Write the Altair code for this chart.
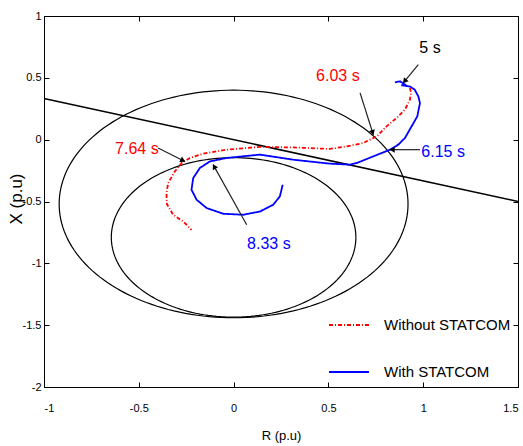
import math
import altair as alt
import pandas as pd

FONT = "Liberation Sans, Arial, sans-serif"

W, H = 474, 371
X_DOM = [-1, 1.5]
Y_DOM = [-2, 1]
x_ticks = [-1, -0.5, 0, 0.5, 1, 1.5]
y_ticks = [-2, -1.5, -1, -0.5, 0, 0.5, 1]

# straight boundary line
line_x = [-1.0, 1.5]
line_y = [0.333, -0.5]

# mho circles (centre, radius)
circle_cx = [0.0, 0.0]
circle_cy = [-0.52, -0.79]
circle_r = [0.92, 0.645]

# impedance trajectories
red_x = [0.93, 0.936, 0.93, 0.904, 0.86, 0.807, 0.755, 0.684, 0.596, 0.508, 0.315, 0.139,
         -0.037, -0.16, -0.231, -0.274, -0.31, -0.345, -0.354, -0.352, -0.319, -0.266, -0.222]
red_y = [0.419, 0.378, 0.324, 0.243, 0.176, 0.108, 0.027, -0.027, -0.054, -0.075, -0.063, -0.058,
         -0.081, -0.113, -0.148, -0.189, -0.257, -0.351, -0.432, -0.52, -0.607, -0.661, -0.729]

blue_x = [0.851, 0.878, 0.904, 0.885, 0.93, 0.955, 0.974, 0.983, 0.969, 0.939, 0.904, 0.869, 0.825,
          0.737, 0.649, 0.614, 0.508, 0.315, 0.139, -0.037, -0.125, -0.178, -0.213, -0.222,
          -0.195, -0.142, -0.055, 0.051, 0.139, 0.209, 0.244, 0.259]
blue_y = [0.464, 0.472, 0.445, 0.44, 0.43, 0.405, 0.351, 0.297, 0.189, 0.108, 0.014, -0.040, -0.081,
          -0.135, -0.189, -0.202, -0.194, -0.162, -0.121, -0.148, -0.176, -0.229, -0.31, -0.405,
          -0.486, -0.553, -0.599, -0.607, -0.581, -0.526, -0.459, -0.364]

series_names = ["Without STATCOM", "With STATCOM"]

# annotations
label_text = ["5 s", "6.03 s", "6.15 s", "7.64 s", "8.33 s"]
label_x = [1.036, 0.55, 1.105, -0.51, 0.186]
label_y = [0.741, 0.518, -0.097, -0.073, -0.842]
label_color = ["black", "red", "blue", "red", "blue"]

arrow_x0 = [0.974, 0.667, 0.983, -0.398, 0.069]
arrow_y0 = [0.607, 0.378, -0.081, -0.067, -0.688]
arrow_x1 = [0.895, 0.737, 0.825, -0.257, -0.108]
arrow_y1 = [0.459, 0.04, -0.081, -0.176, -0.202]

# ---------------------------------------------------------------------------
sx = W / (X_DOM[1] - X_DOM[0])
sy = H / (Y_DOM[1] - Y_DOM[0])

xs = alt.Scale(domain=X_DOM, nice=False, zero=False)
ys = alt.Scale(domain=Y_DOM, nice=False, zero=False)

traj = pd.DataFrame({
    "R": red_x + blue_x,
    "X": red_y + blue_y,
    "series": [series_names[0]] * len(red_x) + [series_names[1]] * len(blue_x),
    "i": list(range(len(red_x))) + list(range(len(blue_x))),
})

lab = pd.DataFrame({"t": label_text, "R": label_x, "X": label_y, "c": label_color})

# arrow heads: angle in screen space, centre pulled back a little from the tip
heads = []
for x0, y0, x1, y1 in zip(arrow_x0, arrow_y0, arrow_x1, arrow_y1):
    dxp = (x1 - x0) * sx
    dyp = -(y1 - y0) * sy
    L = math.hypot(dxp, dyp)
    ang = math.degrees(math.atan2(dxp, -dyp)) % 360
    back = 3.0
    heads.append({"R": x1 - dxp / L * back / sx, "X": y1 + dyp / L * back / sy, "a": ang})
heads = pd.DataFrame(heads)
arrows = pd.DataFrame({"R": arrow_x0, "X": arrow_y0, "R2": arrow_x1, "X2": arrow_y1})

lab_style = dict(labelFont=FONT, labelFontSize=11, labelColor="black")
title_style = dict(titleFont=FONT, titleFontWeight="normal", titleColor="black")

main_x = alt.Axis(values=x_ticks, title="R (p.u)", ticks=False, domain=False, grid=False,
                  labelExpr="'' + datum.value", labelPadding=15, titleFontSize=13,
                  titleY=48, titleBaseline="middle", **lab_style, **title_style)
main_y = alt.Axis(values=y_ticks, title="X (p.u)", ticks=False, domain=False, grid=False,
                  labelExpr="'' + datum.value", labelPadding=3, titleFontSize=17,
                  titleX=-28, titleY=H / 2 - 3, titleBaseline="middle", **lab_style, **title_style)


def tick_axis(vals, orient):
    return alt.Axis(values=vals, orient=orient, ticks=True, tickSize=5, tickColor="black",
                    tickWidth=1, labels=False, domain=False, grid=False, title=None, offset=-5)


base_line = alt.Chart(pd.DataFrame({"R": line_x, "X": line_y})).mark_line(
    color="black", strokeWidth=1.5).encode(
    x=alt.X("R:Q", scale=xs, axis=main_x),
    y=alt.Y("X:Q", scale=ys, axis=main_y),
)


def circle_layer(k, xaxis, yaxis):
    cx, cy, r = circle_cx[k], circle_cy[k], circle_r[k]
    return alt.Chart(alt.sequence(0, 362, 2, as_="deg")).transform_calculate(
        R=f"{cx} + {r} * cos(datum.deg * PI / 180)",
        X=f"{cy} + {r} * sin(datum.deg * PI / 180)",
    ).mark_line(color="black", strokeWidth=1.2).encode(
        x=alt.X("R:Q", scale=xs, axis=xaxis),
        y=alt.Y("X:Q", scale=ys, axis=yaxis),
        order=alt.Order("deg:Q"),
    )


c1 = circle_layer(0, tick_axis(x_ticks, "bottom"), tick_axis(y_ticks, "left"))
c2 = circle_layer(1, tick_axis(x_ticks, "top"), tick_axis(y_ticks, "right"))

leg = alt.Legend(orient="none", legendX=284, legendY=288, title=None, symbolType="stroke",
                 symbolSize=1600, symbolStrokeWidth=2, labelFont=FONT, labelFontSize=15,
                 labelColor="black", labelOffset=14, rowPadding=18, padding=0, labelLimit=300)

traj_layer = alt.Chart(traj).mark_line(strokeWidth=1.8).encode(
    x=alt.X("R:Q", scale=xs, axis=None),
    y=alt.Y("X:Q", scale=ys, axis=None),
    color=alt.Color("series:N", scale=alt.Scale(domain=series_names, range=["red", "blue"]),
                    legend=leg),
    strokeDash=alt.StrokeDash("series:N",
                              scale=alt.Scale(domain=series_names, range=[[4, 2, 1, 2], [1, 0]]),
                              legend=leg),
    detail="series:N",
    order=alt.Order("i:Q"),
)

arrow_layer = alt.Chart(arrows).mark_rule(color="#222222", strokeWidth=1.2).encode(
    x=alt.X("R:Q", scale=xs, axis=None),
    y=alt.Y("X:Q", scale=ys, axis=None),
    x2="R2:Q",
    y2="X2:Q",
)

head_layer = alt.Chart(heads).mark_point(shape="triangle", filled=True, size=36, color="black",
                                         opacity=1).encode(
    x=alt.X("R:Q", scale=xs, axis=None),
    y=alt.Y("X:Q", scale=ys, axis=None),
    angle=alt.Angle("a:Q", scale=None),
)

text_layer = alt.Chart(lab).mark_text(font=FONT, fontSize=16, align="center",
                                      baseline="middle").encode(
    x=alt.X("R:Q", scale=xs, axis=None),
    y=alt.Y("X:Q", scale=ys, axis=None),
    text="t:N",
    color=alt.Color("c:N", scale=None),
)

chart = alt.layer(base_line, c1, c2, traj_layer, arrow_layer, head_layer, text_layer).resolve_axis(
    x="independent", y="independent"
).properties(
    width=W, height=H,
    autosize=alt.AutoSizeParams(type="none"),
    padding={"left": 44, "top": 16, "right": 5, "bottom": 59},
).configure_view(stroke="black", strokeWidth=1)

chart.save("out.html", embed_options={"renderer": "svg", "actions": False})
